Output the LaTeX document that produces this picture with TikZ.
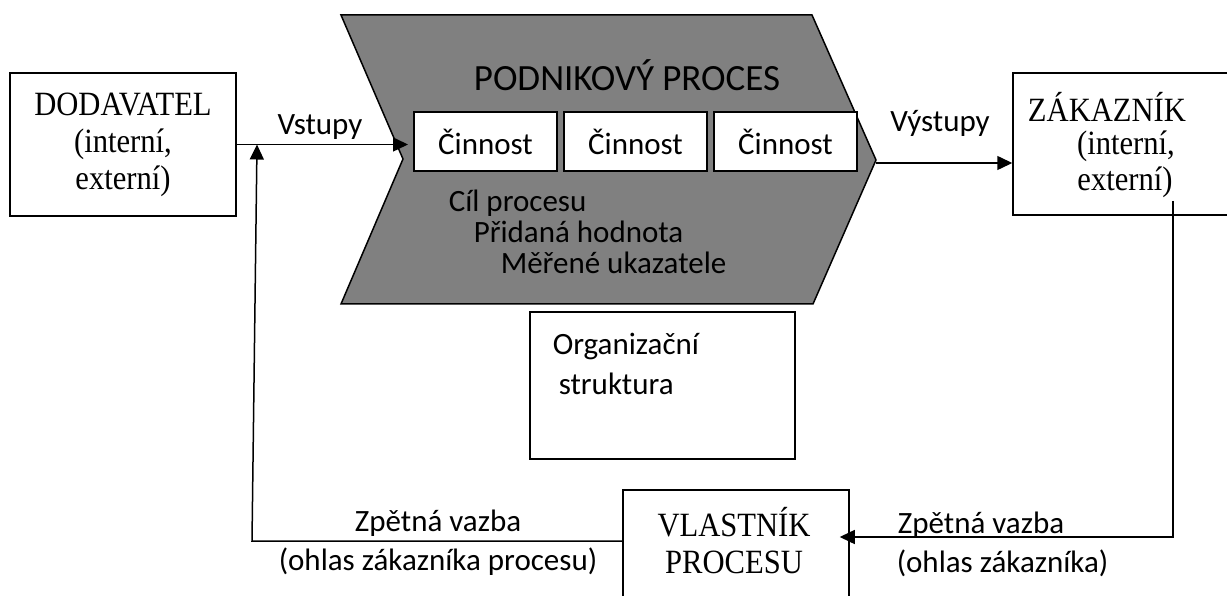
\documentclass[tikz,border=0pt]{standalone}
\usepackage{fontspec}
\setmainfont{Liberation Serif}[FakeStretch=0.9]
\newfontfamily\calib{Carlito}
\usetikzlibrary{arrows.meta}
\definecolor{chevgray}{HTML}{808080}

\begin{document}
\begin{tikzpicture}[x=1pt, y=-1pt, line width=1.5pt,
  box/.style={draw=black, fill=white, inner sep=0pt},
  serif/.style={font=\fontsize{34}{37}\selectfont, align=center, inner sep=0pt},
  sans/.style={font=\calib\fontsize{31}{37}\selectfont, inner sep=0pt},
  title/.style={font=\calib\fontsize{37}{40}\selectfont, inner sep=0pt},
  arr/.style={-{Triangle[length=15pt, width=14pt]}},
]
\useasboundingbox (0,0) rectangle (1227,596);

% process chevron
\filldraw[fill=chevgray, draw=black, line join=miter]
  (341,15) -- (812,15) -- (876,160) -- (813,304) -- (341,304) -- (403,159) -- cycle;
\coordinate (tip) at (876,163);
\coordinate (vin) at (408,144.5);
\node[title] (ptitle) at (627,75) {PODNIKOVÝ PROCES};

% activities
\node[box, minimum width=143pt, minimum height=59pt, sans] (a1) at (485.5,141.5) {Činnost};
\node[box, minimum width=143pt, minimum height=59pt, sans] (a2) at (635.5,141.5) {Činnost};
\node[box, minimum width=143pt, minimum height=59pt, sans] (a3) at (785.5,141.5) {Činnost};

\node[sans, anchor=west] (goal)  at (448,203) {Cíl procesu};
\node[sans, anchor=west] (value) at (473,232) {Přidaná hodnota};
\node[sans, anchor=west] (kpi)   at (500,263) {Měřené ukazatele};

% supplier and customer
\node[box, minimum width=226pt, minimum height=143pt, serif] (dod) at (123,144.5)
  {DODAVATEL\\(interní,\\externí)};
\node[box, minimum width=228pt, minimum height=142pt] (zak) at (1127,144) {};
\node[serif] (zt1) at (1107,107) {ZÁKAZNÍK};
\node[serif] (zt2) at (1126,146) {(interní,};
\node[serif] (zt3) at (1125,182) {externí)};

% organisation structure
\node[box, minimum width=265pt, minimum height=147pt] (org) at (662.5,385.5) {};
\node[sans, anchor=west] (org1) at (552,346) {Organizační};
\node[sans, anchor=west] (org2) at (558,384) {struktura};

% process owner
\node[box, minimum width=226pt, minimum height=160pt] (vl) at (736,570) {};
\node[serif] (vt) at (734,541) {VLASTNÍK\\PROCESU};

% inputs and outputs
\draw[arr] (dod.east) -- (vin);
\node[sans] (lin) at (320,127) {Vstupy};
\draw[arr] (tip) -- (tip -| zak.west);
\node[sans] (lout) at (940,123) {Výstupy};

% feedback from customer to owner
\coordinate (rtop) at (1173,201);
\coordinate (rbot) at (1173,537);
\draw[arr, shorten >=-10pt] (rtop) -- (rbot) -- (rbot -| vl.east);
\node[sans] (fb1) at (981,525) {Zpětná vazba};
\node[sans, anchor=west] (fb2) at (896,563) {(ohlas zákazníka)};

% feedback from owner to supplier side
\coordinate (lbot) at (252,541);
\coordinate (ltop) at (257,144.5);
\draw[arr] (vt.center -| vl.west) -- (lbot) -- (ltop);
\node[sans] (fb3) at (438,523) {Zpětná vazba};
\node[sans] (fb4) at (438,562) {(ohlas zákazníka procesu)};
\end{tikzpicture}
\end{document}
